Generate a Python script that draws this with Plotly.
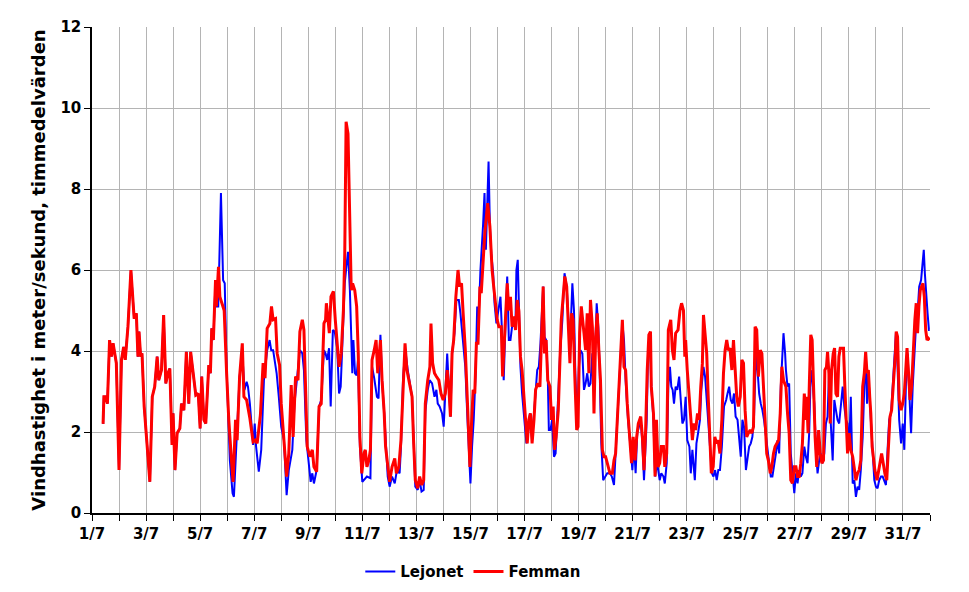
import plotly.graph_objects as go

# time in days since 1/7 00:00, wind speed in m/s (hourly means)
femman_day = [
    0.41, 0.44, 0.50, 0.57, 0.65, 0.72, 0.78, 0.90, 1.00, 1.09, 1.17, 1.23, 1.33, 1.44, 1.56, 1.64,
    1.70, 1.74, 1.80, 1.85, 1.93, 2.05, 2.14, 2.23, 2.32, 2.41, 2.47, 2.57, 2.65, 2.73, 2.81, 2.88,
    2.96, 3.00, 3.07, 3.15, 3.25, 3.31, 3.40, 3.49, 3.58, 3.65, 3.74, 3.84, 3.93, 4.00, 4.06, 4.14,
    4.21, 4.32, 4.38, 4.43, 4.49, 4.57, 4.60, 4.68, 4.73, 4.81, 4.89, 4.98, 5.06, 5.16, 5.22, 5.31,
    5.37, 5.46, 5.56, 5.62, 5.72, 5.84, 5.96, 6.04, 6.11, 6.23, 6.33, 6.40, 6.48, 6.58, 6.64, 6.70,
    6.79, 6.85, 6.94, 7.00, 7.10, 7.20, 7.28, 7.37, 7.44, 7.53, 7.62, 7.69, 7.78, 7.84, 7.90, 7.96,
    8.06, 8.15, 8.21, 8.31, 8.40, 8.48, 8.58, 8.64, 8.67, 8.72, 8.78, 8.84, 8.93, 9.00, 9.14, 9.22,
    9.30, 9.35, 9.40, 9.47, 9.54, 9.59, 9.64, 9.72, 9.79, 9.85, 9.91, 9.98, 10.06, 10.11, 10.17, 10.24,
    10.30, 10.36, 10.44, 10.51, 10.57, 10.67, 10.73, 10.81, 10.86, 10.94, 11.01, 11.10, 11.20, 11.26, 11.35, 11.43,
    11.51, 11.58, 11.65, 11.74, 11.84, 11.90, 11.96, 12.05, 12.12, 12.20, 12.27, 12.33, 12.42, 12.50, 12.54, 12.60,
    12.67, 12.74, 12.83, 12.91, 12.99, 13.07, 13.14, 13.20, 13.26, 13.32, 13.38, 13.46, 13.54, 13.60, 13.67, 13.73,
    13.81, 13.90, 13.98, 14.04, 14.10, 14.16, 14.22, 14.28, 14.35, 14.40, 14.47, 14.53, 14.60, 14.64, 14.72, 14.80,
    14.86, 14.93, 14.99, 15.05, 15.14, 15.19, 15.30, 15.36, 15.42, 15.48, 15.54, 15.60, 15.67, 15.73, 15.79, 15.85,
    15.91, 15.98, 16.04, 16.10, 16.16, 16.22, 16.28, 16.35, 16.41, 16.49, 16.57, 16.63, 16.69, 16.74, 16.80, 16.86,
    16.94, 17.00, 17.06, 17.11, 17.17, 17.25, 17.31, 17.36, 17.43, 17.49, 17.56, 17.62, 17.68, 17.74, 17.80, 17.86,
    17.93, 17.98, 18.04, 18.10, 18.16, 18.20, 18.26, 18.32, 18.38, 18.44, 18.51, 18.57, 18.63, 18.69, 18.75, 18.81,
    18.88, 18.94, 19.00, 19.09, 19.16, 19.25, 19.31, 19.37, 19.43, 19.49, 19.56, 19.62, 19.68, 19.74, 19.80, 19.90,
    19.96, 20.02, 20.09, 20.15, 20.21, 20.30, 20.36, 20.42, 20.48, 20.54, 20.60, 20.66, 20.69, 20.77, 20.83, 20.88,
    20.94, 21.00, 21.06, 21.14, 21.19, 21.26, 21.32, 21.41, 21.47, 21.53, 21.59, 21.68, 21.75, 21.81, 21.88, 21.93,
    21.96, 22.02, 22.09, 22.15, 22.21, 22.27, 22.33, 22.40, 22.46, 22.52, 22.58, 22.62, 22.68, 22.74, 22.79, 22.85,
    22.91, 22.98, 23.04, 23.10, 23.16, 23.23, 23.30, 23.36, 23.42, 23.48, 23.54, 23.60, 23.67, 23.73, 23.79, 23.85,
    23.91, 23.98, 24.04, 24.10, 24.16, 24.22, 24.28, 24.35, 24.41, 24.47, 24.53, 24.59, 24.65, 24.72, 24.78, 24.84,
    24.90, 24.96, 25.02, 25.09, 25.15, 25.21, 25.27, 25.33, 25.40, 25.46, 25.52, 25.58, 25.67, 25.73, 25.79, 25.85,
    25.91, 25.98, 26.04, 26.10, 26.16, 26.22, 26.28, 26.35, 26.41, 26.44, 26.49, 26.54, 26.59, 26.64, 26.69, 26.75,
    26.81, 26.88, 26.94, 27.00, 27.06, 27.11, 27.17, 27.21, 27.26, 27.31, 27.36, 27.42, 27.47, 27.52, 27.58, 27.63,
    27.68, 27.74, 27.80, 27.85, 27.90, 27.95, 28.01, 28.07, 28.14, 28.20, 28.26, 28.32, 28.38, 28.44, 28.51, 28.57,
    28.62, 28.67, 28.72, 28.77, 28.81, 28.86, 28.91, 28.96, 29.04, 29.10, 29.16, 29.21, 29.27, 29.33, 29.40, 29.46,
    29.52, 29.58, 29.64, 29.72, 29.75, 29.80, 29.86, 29.93, 29.99, 30.05, 30.11, 30.15, 30.20, 30.26, 30.32, 30.38,
    30.44, 30.49, 30.54, 30.59, 30.64, 30.69, 30.74, 30.79, 30.84, 30.89, 30.94, 30.99,
]
femman_ms = [
    2.2, 2.87, 2.87, 2.7, 4.27, 3.86, 4.19, 3.7, 1.06, 3.78, 4.1, 3.78, 4.6, 6.0, 4.8, 4.93,
    3.86, 4.48, 3.86, 3.94, 2.63, 1.47, 0.77, 2.87, 3.12, 3.86, 3.28, 3.53, 4.89, 3.2, 3.45, 3.57,
    1.68, 2.46, 1.06, 1.97, 2.09, 2.7, 2.54, 3.98, 2.7, 3.98, 3.45, 2.91, 2.95, 2.09, 3.37, 2.3,
    2.21, 3.65, 3.45, 4.56, 4.27, 5.75, 5.1, 6.08, 5.34, 5.18, 5.0, 3.45, 2.3, 1.3, 0.77, 2.3,
    1.8, 3.37, 4.19, 2.87, 2.79, 2.34, 1.76, 1.8, 1.72, 2.42, 3.7, 3.33, 4.56, 4.68, 5.1, 4.77,
    4.8, 3.94, 3.65, 2.7, 1.88, 0.9, 1.47, 3.16, 1.88, 3.37, 3.28, 4.48, 4.77, 4.52, 3.12, 1.64,
    1.39, 1.56, 1.14, 1.02, 2.63, 2.7, 4.68, 4.77, 5.18, 4.77, 4.44, 5.34, 5.47, 4.77, 3.61, 3.94,
    5.0, 6.4, 9.66, 9.37, 7.23, 5.5, 5.67, 5.5, 5.1, 3.94, 1.88, 0.98, 1.47, 1.56, 1.14, 1.3,
    1.56, 3.78, 4.02, 4.27, 3.45, 4.27, 3.28, 2.46, 1.64, 1.23, 0.77, 1.14, 1.35, 0.98, 1.14, 1.8,
    3.2, 4.19, 3.53, 3.2, 2.87, 1.72, 0.81, 0.61, 0.9, 0.69, 0.81, 2.7, 3.28, 3.61, 4.68, 3.7,
    3.45, 3.37, 3.28, 2.95, 2.79, 2.95, 3.53, 3.12, 2.38, 3.94, 4.27, 5.34, 6.0, 5.59, 5.67, 4.93,
    4.02, 2.54, 1.14, 2.21, 3.04, 2.95, 4.19, 4.19, 5.59, 5.43, 6.41, 6.9, 7.4, 7.65, 7.07, 6.0,
    5.59, 5.1, 4.77, 4.6, 4.6, 3.37, 4.93, 5.67, 5.0, 5.34, 4.6, 4.85, 4.52, 5.26, 5.0, 3.86,
    3.53, 2.87, 2.3, 1.72, 2.3, 2.46, 1.72, 2.3, 3.04, 3.2, 3.12, 4.35, 5.59, 3.94, 4.27, 3.28,
    3.12, 2.3, 2.63, 1.56, 1.88, 2.54, 3.94, 4.77, 5.34, 5.84, 5.59, 4.77, 3.7, 4.93, 4.77, 3.37,
    2.05, 2.13, 4.44, 5.1, 4.6, 4.44, 4.02, 4.93, 3.45, 5.26, 4.6, 2.46, 4.35, 4.93, 4.02, 3.28,
    1.56, 1.39, 1.39, 1.14, 0.98, 0.98, 1.3, 1.47, 2.3, 3.12, 3.86, 4.77, 3.61, 3.53, 2.7, 1.72,
    1.23, 1.88, 1.3, 1.88, 2.21, 2.38, 1.88, 1.06, 2.05, 3.53, 4.4, 4.48, 3.12, 2.46, 0.9, 2.3,
    1.14, 1.23, 1.64, 1.64, 1.14, 1.47, 4.52, 4.77, 4.02, 3.78, 4.44, 4.52, 5.0, 5.18, 5.0, 3.86,
    4.27, 3.53, 2.95, 2.3, 1.8, 2.21, 2.05, 2.46, 2.3, 3.12, 3.7, 4.89, 4.35, 3.94, 2.95, 1.88,
    0.98, 1.14, 1.88, 1.72, 1.8, 1.47, 2.3, 3.45, 4.02, 4.27, 4.02, 4.07, 3.53, 4.27, 3.53, 2.87,
    2.63, 2.87, 3.78, 3.7, 2.54, 1.88, 1.97, 2.05, 1.97, 2.13, 4.6, 4.52, 3.37, 4.02, 3.94, 3.04,
    2.3, 1.47, 1.3, 0.98, 1.14, 1.47, 1.64, 1.72, 1.8, 2.46, 3.61, 3.28, 3.12, 2.46, 1.97, 0.81,
    0.73, 1.14, 1.14, 0.9, 0.9, 1.23, 1.72, 2.95, 2.3, 2.87, 1.97, 3.28, 4.4, 4.27, 3.12, 1.88,
    1.14, 2.05, 1.47, 1.23, 1.3, 3.53, 3.61, 3.98, 3.45, 2.21, 3.53, 3.94, 4.07, 2.95, 2.87, 3.86,
    4.07, 4.07, 4.07, 3.12, 2.3, 1.47, 1.97, 1.56, 1.39, 1.06, 0.81, 0.98, 1.06, 1.3, 3.12, 3.45,
    3.98, 3.45, 3.53, 2.87, 2.46, 1.64, 1.39, 1.06, 0.81, 1.06, 1.23, 1.47, 1.23, 0.98, 0.81, 1.47,
    2.38, 2.54, 3.12, 3.94, 4.48, 4.35, 2.79, 2.54, 2.7, 2.95, 3.61, 4.07, 3.53, 2.79, 3.12, 4.02,
    4.77, 5.18, 4.44, 5.1, 5.5, 5.59, 5.67, 5.34, 4.52, 4.27, 4.31, 4.27,
]

lejonet_day = [
    0.41, 0.44, 0.50, 0.57, 0.65, 0.72, 0.78, 0.90, 1.00, 1.09, 1.17, 1.23, 1.33, 1.44, 1.56, 1.64,
    1.70, 1.74, 1.80, 1.85, 1.93, 2.05, 2.14, 2.23, 2.32, 2.41, 2.47, 2.57, 2.65, 2.73, 2.81, 2.88,
    2.96, 3.00, 3.07, 3.15, 3.25, 3.31, 3.40, 3.49, 3.58, 3.65, 3.74, 3.84, 3.93, 4.00, 4.06, 4.14,
    4.21, 4.32, 4.38, 4.43, 4.49, 4.57, 4.60, 4.67, 4.77, 4.85, 4.91, 4.98, 5.10, 5.20, 5.25, 5.35,
    5.46, 5.56, 5.64, 5.72, 5.77, 5.84, 5.96, 6.02, 6.07, 6.17, 6.26, 6.36, 6.48, 6.57, 6.63, 6.70,
    6.75, 6.83, 6.91, 7.00, 7.10, 7.20, 7.28, 7.41, 7.49, 7.59, 7.69, 7.78, 7.84, 7.93, 8.02, 8.09,
    8.15, 8.21, 8.31, 8.40, 8.48, 8.58, 8.64, 8.70, 8.77, 8.83, 8.91, 8.98, 9.07, 9.14, 9.20, 9.30,
    9.35, 9.41, 9.47, 9.54, 9.63, 9.67, 9.73, 9.79, 9.84, 9.91, 10.00, 10.17, 10.30, 10.36, 10.44, 10.54,
    10.60, 10.67, 10.73, 10.81, 10.94, 11.01, 11.10, 11.20, 11.28, 11.38, 11.43, 11.51, 11.59, 11.68, 11.75, 11.84,
    11.96, 12.05, 12.12, 12.19, 12.27, 12.33, 12.42, 12.49, 12.58, 12.67, 12.74, 12.79, 12.86, 12.95, 13.01, 13.07,
    13.14, 13.20, 13.26, 13.32, 13.41, 13.48, 13.57, 13.63, 13.73, 13.81, 13.88, 13.95, 14.00, 14.06, 14.12, 14.19,
    14.25, 14.31, 14.37, 14.47, 14.52, 14.57, 14.62, 14.67, 14.72, 14.77, 14.84, 14.89, 14.96, 15.05, 15.11, 15.17,
    15.23, 15.30, 15.36, 15.42, 15.48, 15.54, 15.60, 15.67, 15.70, 15.75, 15.79, 15.85, 15.91, 15.98, 16.07, 16.12,
    16.20, 16.28, 16.41, 16.47, 16.53, 16.59, 16.69, 16.74, 16.80, 16.86, 16.90, 16.96, 17.02, 17.09, 17.15, 17.21,
    17.31, 17.40, 17.48, 17.56, 17.62, 17.68, 17.77, 17.83, 17.88, 17.95, 18.01, 18.07, 18.14, 18.20, 18.26, 18.32,
    18.38, 18.44, 18.51, 18.59, 18.67, 18.73, 18.78, 18.84, 18.91, 18.99, 19.06, 19.16, 19.23, 19.31, 19.37, 19.43,
    19.56, 19.62, 19.68, 19.74, 19.83, 19.93, 19.99, 20.05, 20.11, 20.17, 20.23, 20.30, 20.36, 20.42, 20.52, 20.57,
    20.64, 20.69, 20.77, 20.83, 20.91, 21.00, 21.06, 21.14, 21.19, 21.26, 21.32, 21.38, 21.43, 21.48, 21.53, 21.59,
    21.65, 21.72, 21.78, 21.84, 21.90, 21.96, 22.02, 22.10, 22.15, 22.21, 22.30, 22.36, 22.42, 22.49, 22.54, 22.62,
    22.68, 22.74, 22.80, 22.86, 22.93, 22.99, 23.05, 23.11, 23.17, 23.23, 23.30, 23.38, 23.46, 23.51, 23.57, 23.63,
    23.69, 23.75, 23.81, 23.88, 23.94, 24.00, 24.06, 24.12, 24.19, 24.25, 24.31, 24.37, 24.43, 24.49, 24.56, 24.62,
    24.68, 24.74, 24.80, 24.86, 24.93, 24.99, 25.05, 25.11, 25.17, 25.23, 25.30, 25.36, 25.42, 25.48, 25.54, 25.58,
    25.64, 25.67, 25.73, 25.79, 25.85, 25.91, 25.98, 26.04, 26.10, 26.16, 26.22, 26.28, 26.35, 26.41, 26.47, 26.53,
    26.59, 26.65, 26.72, 26.78, 26.84, 26.90, 26.96, 27.02, 27.09, 27.15, 27.21, 27.27, 27.33, 27.40, 27.46, 27.52,
    27.58, 27.64, 27.70, 27.77, 27.83, 27.89, 27.95, 28.01, 28.07, 28.14, 28.20, 28.26, 28.32, 28.38, 28.44, 28.51,
    28.57, 28.62, 28.67, 28.72, 28.77, 28.81, 28.88, 28.94, 29.00, 29.06, 29.12, 29.19, 29.25, 29.31, 29.37, 29.43,
    29.49, 29.56, 29.62, 29.68, 29.74, 29.80, 29.86, 29.93, 29.99, 30.05, 30.11, 30.17, 30.23, 30.30, 30.36, 30.42,
    30.48, 30.54, 30.60, 30.67, 30.72, 30.77, 30.81, 30.86, 30.91, 30.96, 30.99,
]
lejonet_ms = [
    2.2, 2.87, 2.87, 2.7, 4.27, 3.86, 4.19, 3.7, 1.06, 3.78, 4.1, 3.78, 4.6, 6.0, 4.8, 4.93,
    3.86, 4.48, 3.86, 3.94, 2.63, 1.47, 0.77, 2.87, 3.12, 3.86, 3.28, 3.53, 4.89, 3.2, 3.45, 3.57,
    1.68, 2.46, 1.06, 1.97, 2.09, 2.7, 2.54, 3.98, 2.7, 3.98, 3.45, 2.91, 2.95, 2.09, 3.37, 2.3,
    2.21, 3.65, 3.45, 4.56, 4.27, 5.75, 5.1, 5.1, 7.9, 5.75, 5.67, 3.53, 1.3, 0.49, 0.4, 1.8,
    3.37, 3.94, 3.04, 3.24, 3.12, 2.7, 1.68, 2.21, 1.64, 1.02, 1.56, 3.28, 4.02, 4.27, 4.02, 4.02,
    3.82, 3.45, 2.87, 2.13, 1.8, 0.44, 1.06, 1.56, 2.7, 3.28, 4.02, 3.94, 3.53, 1.8, 1.23, 0.77,
    0.98, 0.73, 1.06, 2.63, 2.79, 4.02, 3.94, 3.78, 4.07, 2.63, 4.52, 4.48, 4.07, 2.95, 3.12, 4.93,
    5.67, 6.08, 6.45, 5.5, 3.45, 4.27, 3.45, 3.4, 3.78, 1.64, 0.77, 0.9, 0.86, 3.61, 3.33, 2.87,
    2.83, 4.4, 3.28, 2.46, 0.9, 0.65, 0.9, 0.73, 1.06, 0.98, 1.64, 3.37, 4.02, 3.53, 3.28, 2.87,
    0.65, 0.57, 0.81, 0.53, 0.57, 2.5, 3.04, 3.28, 3.2, 2.87, 3.04, 2.7, 2.63, 2.46, 2.13, 3.04,
    3.94, 3.12, 2.38, 3.94, 4.44, 5.26, 5.26, 4.93, 4.19, 3.61, 2.46, 1.3, 0.73, 1.64, 2.3, 3.45,
    5.1, 4.93, 6.0, 7.15, 7.9, 6.5, 7.65, 8.68, 7.07, 6.41, 5.92, 5.18, 4.68, 5.1, 5.34, 4.44,
    3.28, 4.77, 5.84, 4.27, 4.27, 4.6, 4.77, 4.85, 6.0, 6.25, 5.42, 3.61, 2.95, 2.3, 1.72, 1.88,
    2.46, 1.8, 3.04, 3.53, 3.61, 4.19, 5.59, 4.35, 4.27, 3.37, 2.05, 2.05, 2.3, 1.39, 1.47, 2.46,
    3.86, 4.77, 5.92, 5.59, 4.77, 4.1, 5.67, 5.0, 3.45, 2.13, 3.61, 4.02, 3.94, 3.04, 3.2, 3.45,
    3.12, 3.2, 3.94, 3.45, 5.18, 4.6, 3.53, 1.72, 0.81, 0.9, 0.98, 0.98, 0.9, 0.69, 1.56, 2.38,
    3.94, 4.68, 4.27, 3.28, 2.3, 1.56, 1.06, 1.72, 0.98, 1.97, 2.13, 2.3, 1.72, 0.81, 2.3, 3.94,
    4.27, 3.12, 2.3, 0.9, 1.23, 0.81, 0.98, 0.9, 0.73, 1.23, 3.12, 3.61, 3.12, 3.04, 2.7, 3.12,
    3.04, 3.37, 2.79, 2.21, 2.3, 2.87, 1.8, 1.64, 0.98, 1.56, 0.81, 1.72, 1.97, 2.3, 3.04, 3.61,
    3.37, 2.79, 2.3, 1.56, 0.98, 0.9, 1.06, 0.81, 1.06, 1.06, 1.64, 2.63, 2.79, 2.95, 3.12, 2.79,
    2.7, 2.95, 2.38, 2.3, 1.8, 1.39, 2.3, 2.13, 1.06, 1.3, 1.64, 1.72, 1.88, 2.38, 3.94, 3.53,
    2.95, 2.7, 2.54, 2.3, 1.88, 1.47, 1.14, 0.9, 0.9, 1.14, 1.47, 1.8, 1.47, 3.12, 4.02, 4.44,
    3.94, 3.53, 3.12, 3.2, 1.47, 0.9, 0.49, 0.98, 0.73, 1.06, 0.9, 0.98, 1.64, 1.39, 1.23, 1.97,
    3.53, 3.28, 2.7, 1.56, 0.98, 1.3, 1.47, 1.23, 1.47, 2.21, 2.38, 3.53, 2.21, 1.3, 2.79, 2.54,
    2.3, 2.21, 2.63, 3.12, 2.63, 2.3, 2.21, 1.56, 2.87, 0.73, 0.81, 0.4, 0.65, 0.57, 1.06, 1.88,
    3.12, 3.94, 2.7, 3.45, 2.79, 2.38, 1.47, 0.81, 0.65, 0.61, 0.81, 0.9, 0.9, 0.81, 0.69, 1.55,
    2.3, 2.46, 3.12, 3.94, 4.44, 3.61, 2.3, 1.72, 2.21, 1.56, 3.2, 3.94, 2.79, 1.97, 3.12, 4.02,
    4.6, 4.93, 5.59, 5.75, 6.08, 6.5, 5.92, 5.34, 4.93, 4.52, 4.52,
]

day_ticks = list(range(32))
day_labels = [f"{d + 1}/7" if d % 2 == 0 else "" for d in day_ticks]

font = dict(family="DejaVu Sans", size=15, color="black", weight="bold")
title_font = dict(family="DejaVu Sans", size=18, color="black", weight="bold")

fig = go.Figure()
fig.add_trace(go.Scatter(x=lejonet_day, y=lejonet_ms, mode="lines", name="Lejonet",
                         line=dict(color="#0000ff", width=2)))
fig.add_trace(go.Scatter(x=femman_day, y=femman_ms, mode="lines", name="Femman",
                         line=dict(color="#ff0000", width=3)))

# the page body has an 8px margin, so the margins are shifted by that amount
fig.update_layout(
    width=969, height=592,
    margin=dict(l=84, r=47, t=19, b=87, autoexpand=False),
    paper_bgcolor="white", plot_bgcolor="white",
    font=font,
    showlegend=True,
    legend=dict(orientation="h", x=0.455, xanchor="center", y=-0.121, yanchor="middle",
                font=font, itemwidth=30),
)
fig.update_xaxes(
    range=[0, 31], tickmode="array", tickvals=day_ticks, ticktext=day_labels,
    showgrid=True, gridcolor="#b4b4b4", gridwidth=1, automargin=False,
    showline=True, linecolor="black", linewidth=1.5,
    ticks="outside", ticklen=6, tickcolor="black", tickfont=font, zeroline=False,
)
fig.update_yaxes(
    range=[0, 12], dtick=2, tickmode="linear", tick0=0,
    showgrid=True, gridcolor="#b4b4b4", gridwidth=1, automargin=False,
    showline=True, linecolor="black", linewidth=1.5,
    ticks="outside", ticklen=6, tickcolor="black", tickfont=font, zeroline=False,
    title=dict(text="Vindhastighet i meter/sekund, timmedelvärden", font=title_font, standoff=10),
)

fig.write_html("out.html")
